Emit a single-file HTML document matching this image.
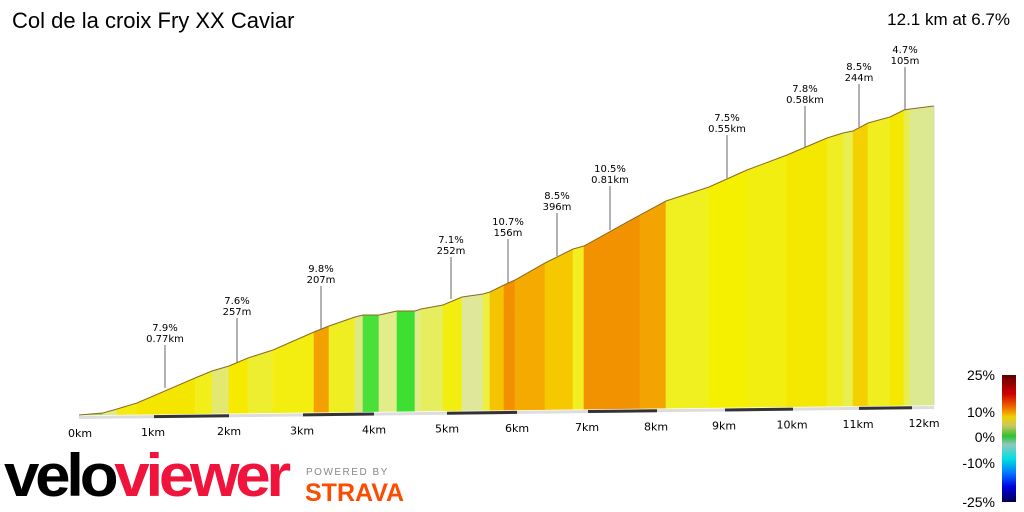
<!DOCTYPE html>
<html><head><meta charset="utf-8"><style>
body{margin:0;width:1024px;height:512px;background:#fff;overflow:hidden;font-family:"Liberation Sans",sans-serif;position:relative}
.t{position:absolute}
</style></head><body>
<div class="t" style="left:12px;top:8px;font-size:22px;color:#000">Col de la croix Fry XX Caviar</div>
<div class="t" style="right:14px;top:10px;font-size:17px;color:#000">12.1 km at 6.7%</div>
<svg width="1024" height="512" style="position:absolute;left:0;top:0" font-family="DejaVu Sans, sans-serif">
<defs><linearGradient id="lg" x1="0" y1="0" x2="0" y2="1">
<stop offset="0" stop-color="#600000"/><stop offset="0.15" stop-color="#d00000"/><stop offset="0.26" stop-color="#f07000"/><stop offset="0.33" stop-color="#f0d000"/><stop offset="0.4" stop-color="#c8c860"/><stop offset="0.48" stop-color="#30c030"/><stop offset="0.55" stop-color="#90c8c0"/><stop offset="0.66" stop-color="#00e0e0"/><stop offset="0.78" stop-color="#0070ff"/><stop offset="0.88" stop-color="#0000e0"/><stop offset="1" stop-color="#000050"/></linearGradient></defs>
<g id="prof" stroke-width="0.6"></g>
<g id="lbl" font-size="10" fill="#000" text-anchor="middle"></g>
<g id="ax" font-size="11" fill="#000" text-anchor="middle"></g>
<rect x="1002" y="375" width="14" height="127" fill="url(#lg)"/>
<g font-size="14" text-anchor="end" fill="#000" font-family="Liberation Sans, sans-serif">
<text x="995" y="380">25%</text><text x="995" y="417">10%</text><text x="995" y="442">0%</text><text x="995" y="468">-10%</text><text x="995" y="507">-25%</text></g>
</svg>
<div class="t" style="left:4px;top:446px;font-size:60px;font-weight:bold;letter-spacing:-4px;line-height:60px;transform:scaleX(1.06);transform-origin:left"><span style="color:#000">velo</span><span style="color:#f0143c">viewer</span></div>
<div class="t" style="left:306px;top:467px;font-size:10px;color:#888;letter-spacing:1.5px">POWERED BY</div>
<div class="t" style="left:305px;top:479px;font-size:25px;font-weight:bold;color:#fc4c02">STRAVA</div>
<script>
var P=[[79,415],[103,413],[117,409],[137,403],[195,378],[212,371],[229,366],[248,358],[273,350],[314,332],[329,326],[355,317],[363,315],[379,315],[397,311],[415,311],[421,309],[443,305],[462,297],[483,294],[490,292],[504,285],[515,280],[545,263],[573,249],[584,246],[640,215],[666,201],[709,187],[747,170],[787,155],[827,138],[843,133],[853,131],[868,123],[890,117],[904,110],[910,109],[934,106]];
var C=["#a6d957","#e2ec80","#f4ec10","#f5e600","#f2ee1a","#e2e870","#f5ea00","#eeee30","#f4ee10","#f2a100","#eeee22","#e0e880","#4ae03a","#e2ec88","#3de030","#e2ec88","#e6ee60","#f2ee10","#dfe89a","#eeee40","#f5c400","#f39000","#f4aa00","#f5c800","#f2ee20","#f39200","#f4a400","#f0f020","#f5f000","#f2ee10","#f5e800","#f0ee20","#e8f050","#f5d000","#f0ee20","#f5e800","#e8ee50","#dce990"];
function by(x){return 415-(x-79)*10/855;}
var s="";
for(var i=0;i<P.length-1;i++){var a=P[i],b=P[i+1];
s+='<polygon points="'+a[0]+','+a[1]+' '+b[0]+','+b[1]+' '+b[0]+','+by(b[0])+' '+a[0]+','+by(a[0])+'" fill="'+C[i]+'" stroke="'+C[i]+'"/>';}
var pl=P.map(function(p){return p.join(',')}).join(' ');
s+='<polyline points="'+pl+'" fill="none" stroke="#8a6a20" stroke-width="1"/>';
s+='<line x1="934" y1="106" x2="934" y2="'+by(934)+'" stroke="#ccc"/>';
document.getElementById('prof').innerHTML=s;
var L=[[165,331,"7.9%","0.77km",388],[237,304,"7.6%","257m",363],[321,272,"9.8%","207m",329],[451,243,"7.1%","252m",299],[508,225,"10.7%","156m",283],[557,199,"8.5%","396m",256],[610,172,"10.5%","0.81km",230],[727,121,"7.5%","0.55km",178],[805,92,"7.8%","0.58km",147],[859,70,"8.5%","244m",127],[905,53,"4.7%","105m",110]];
s="";L.forEach(function(l){s+='<text x="'+l[0]+'" y="'+l[1]+'">'+l[2]+'</text><text x="'+l[0]+'" y="'+(l[1]+11)+'">'+l[3]+'</text><line x1="'+l[0]+'" y1="'+(l[1]+14)+'" x2="'+l[0]+'" y2="'+l[4]+'" stroke="#666" stroke-width="1"/>';});
document.getElementById('lbl').innerHTML=s;
s='<polygon points="79,'+(by(79)+1)+' 934,'+(by(934)+1)+' 934,'+(by(934)+4)+' 79,'+(by(79)+4)+'" fill="#ddd"/>';
[[154,229],[303,374],[447,517],[588,657],[725,793],[859,912]].forEach(function(d){s+='<line x1="'+d[0]+'" y1="'+(by(d[0])+2.5)+'" x2="'+d[1]+'" y2="'+(by(d[1])+2.5)+'" stroke="#333" stroke-width="3"/>';});
var K=[80,153,229,302,374,447,517,587,656,724,792,858,924];
K.forEach(function(x,i){s+='<text x="'+x+'" y="'+(by(x)+22)+'">'+i+'km</text>';});
document.getElementById('ax').innerHTML=s;
</script>
</body></html>
